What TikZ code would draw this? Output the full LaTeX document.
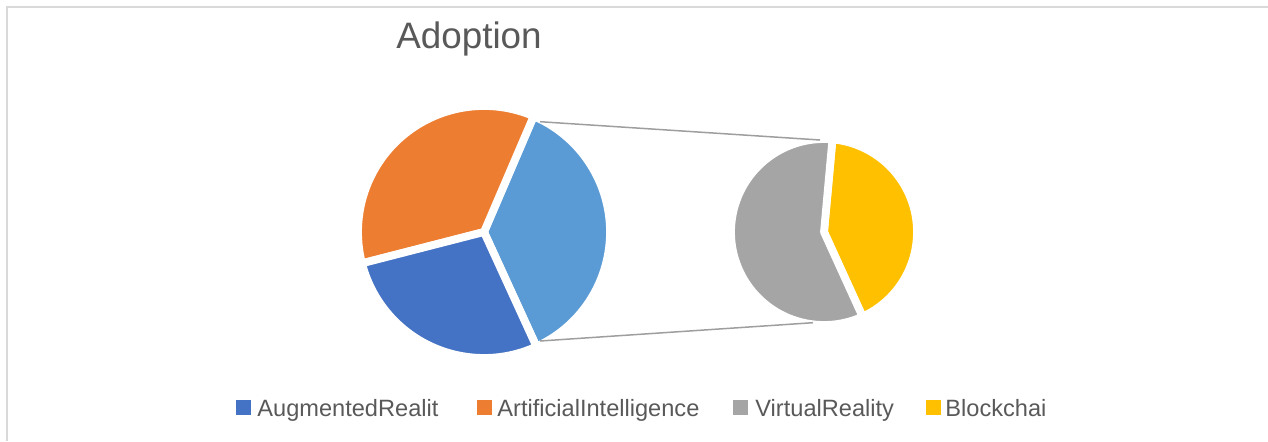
\documentclass[tikz,border=0pt]{standalone}
\usepackage{fontspec}
\setmainfont{Liberation Sans}
\usepackage{tikz}

\definecolor{arBlue}{HTML}{4472C4}
\definecolor{aiOrange}{HTML}{ED7D31}
\definecolor{vrGray}{HTML}{A5A5A5}
\definecolor{bcYellow}{HTML}{FFC000}
\definecolor{otherBlue}{HTML}{5B9BD5}
\definecolor{labelGray}{HTML}{595959}
\definecolor{frameGray}{HTML}{D9D9D9}
\definecolor{linkGray}{HTML}{9E9E9E}

\begin{document}
\begin{tikzpicture}[x=0.5pt, y=0.5pt,
	slice/.style={draw=white, line width=3.9pt, line join=round},
	key/.style={shape=rectangle, minimum size=7.5pt, inner sep=0pt},
	keytext/.style={anchor=base west, inner sep=0pt, text=labelGray, font=\fontsize{11.8pt}{14pt}\selectfont},
	link/.style={draw=linkGray, line width=0.75pt}]
	
	\useasboundingbox (0,0) rectangle (1268,441);
	\draw[frameGray, line width=0.75pt] (7,0) -- (7,434) -- (1268,434);
	
	\node[anchor=base west, inner sep=0pt, text=labelGray, font=\fontsize{18.4pt}{22pt}\selectfont] (title) at (396,393) {Adoption};
	
	% main pie
	\coordinate (lc) at (484,209);
	\filldraw[slice, fill=otherBlue] (lc) -- ++(-65.4:126) arc[start angle=-65.4, end angle=66.8, radius=126] -- cycle;
	\filldraw[slice, fill=aiOrange] (lc) -- ++(66.8:126) arc[start angle=66.8, end angle=194.4, radius=126] -- cycle;
	\filldraw[slice, fill=arBlue] (lc) -- ++(194.4:126) arc[start angle=194.4, end angle=294.6, radius=126] -- cycle;
	
	% secondary pie
	\coordinate (rc) at (824,209);
	\filldraw[slice, fill=bcYellow] (rc) -- ++(-65.5:93) arc[start angle=-65.5, end angle=84.8, radius=93] -- cycle;
	\filldraw[slice, fill=vrGray] (rc) -- ++(84.8:93) arc[start angle=84.8, end angle=294.5, radius=93] -- cycle;
	
	\coordinate (otherTop) at (540,319.3);
	\coordinate (otherBot) at (540,100);
	\coordinate (subTop) at (820,301);
	\coordinate (subBot) at (813,118.3);
	
	\path[link] (otherTop) edge (subTop);
	\path[link] (otherBot) edge (subBot);
	
	% legend
	\node[key, fill=arBlue] (k1) at (243.5,33.5) {};
	\node[keytext] (t1) at (257,25) {AugmentedRealit};
	\node[key, fill=aiOrange] (k2) at (484.5,33.5) {};
	\node[keytext] (t2) at (497,25) {ArtificialIntelligence};
	\node[key, fill=vrGray] (k3) at (740,33.5) {};
	\node[keytext] (t3) at (755,25) {VirtualReality};
	\node[key, fill=bcYellow] (k4) at (933,33.5) {};
	\node[keytext] (t4) at (945,25) {Blockchai};
	
\end{tikzpicture}
\end{document}
